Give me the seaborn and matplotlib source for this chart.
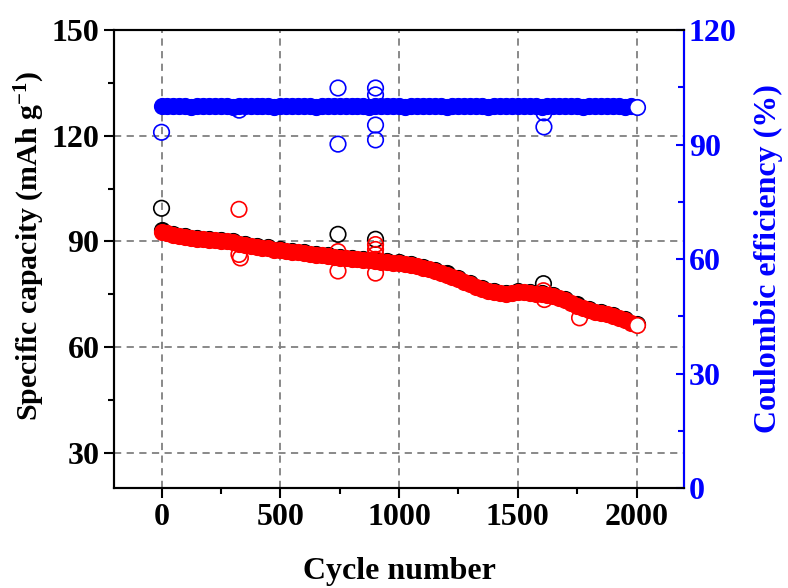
import seaborn as sns
import matplotlib.pyplot as plt
from matplotlib.ticker import MultipleLocator

# === 1. Data ===
# red: discharge capacity (mAh/g), sampled every 25 cycles along the band
cycles = list(range(0, 2001, 25))
discharge_cap = [
    92.8, 92.3, 91.9, 91.6, 91.3, 91.0, 90.8, 90.6, 90.5, 90.3,
    90.2, 90.0, 89.8, 89.4, 89.0, 88.7, 88.4, 88.2, 88.0, 87.7,
    87.5, 87.3, 87.1, 86.9, 86.7, 86.4, 86.2, 86.0, 85.8, 85.6,
    85.4, 85.2, 85.0, 84.9, 84.8, 84.6, 84.4, 84.2, 84.1, 84.0,
    83.8, 83.6, 83.3, 82.9, 82.5, 82.1, 81.6, 81.1, 80.6, 80.0,
    79.4, 78.6, 77.8, 77.1, 76.4, 76.0, 75.6, 75.3, 75.1, 75.3,
    75.6, 75.6, 75.4, 75.2, 75.0, 74.8, 74.5, 74.0, 73.3, 72.6,
    71.8, 71.1, 70.5, 70.1, 69.7, 69.3, 68.8, 68.2, 67.6, 66.9,
    66.2,
]
# blue: coulombic efficiency (%), same cycles
efficiency = [
    100.2, 100.1, 100.0, 100.1, 100.0, 99.9, 100.0, 100.1, 100.0, 100.0,
    100.1, 100.0, 99.9, 100.0, 100.1, 100.0, 100.0, 100.1, 100.0, 99.9,
    100.0, 100.1, 100.0, 100.0, 100.1, 100.0, 99.9, 100.0, 100.1, 100.0,
    100.2, 100.0, 100.0, 100.1, 100.0, 99.9, 100.1, 100.0, 100.0, 100.1,
    100.0, 99.9, 100.0, 100.1, 100.0, 100.0, 100.1, 100.0, 99.9, 100.0,
    100.1, 100.0, 100.0, 100.1, 100.0, 99.9, 100.0, 100.1, 100.0, 100.0,
    100.1, 100.0, 100.2, 100.0, 99.9, 100.0, 100.1, 100.0, 100.0, 100.1,
    100.0, 99.9, 100.0, 100.1, 100.0, 100.0, 100.1, 100.0, 99.9, 100.0,
    99.8,
]
# black: charge capacity, mostly hidden under the red band
cycles_50 = list(range(0, 2001, 50))
charge_cap = [
    93.2, 92.2, 91.6, 91.1, 90.8, 90.5, 90.2, 89.4, 88.8, 88.3,
    87.8, 87.4, 87.0, 86.5, 86.1, 85.7, 85.3, 85.1, 84.7, 84.4,
    84.1, 83.6, 82.8, 81.9, 80.9, 79.7, 78.1, 76.7, 75.9, 75.4,
    75.9, 75.7, 75.3, 74.8, 73.6, 72.1, 70.8, 70.0, 69.1, 67.9,
    66.5,
]

# outliers
black_out_cycles = [0, 743, 901, 1608]
black_out_cap = [99.4, 92.0, 90.6, 78.0]
red_out_cycles = [326, 326, 332, 743, 743, 901, 901, 901, 901, 901, 1608, 1612, 1760]
red_out_cap = [99.1, 86.3, 85.3, 87.1, 81.6, 89.1, 87.7, 86.3, 84.9, 81.0, 76.0, 73.5, 68.3]
blue_out_cycles = [0, 327, 743, 743, 901, 901, 901, 901, 1610, 1610]
blue_out_ce = [93.2, 99.0, 104.8, 90.1, 104.8, 103.0, 95.1, 91.2, 98.3, 94.6]

# === 2. Style ===
sns.set_style("white")
plt.rcParams["font.family"] = ["Liberation Serif", "DejaVu Serif"]
plt.rcParams["font.weight"] = "bold"
plt.rcParams["text.color"] = "black"
plt.rcParams["axes.labelcolor"] = "black"
plt.rcParams["xtick.color"] = "black"
plt.rcParams["ytick.color"] = "black"
plt.rcParams["mathtext.fontset"] = "custom"
plt.rcParams["mathtext.rm"] = "Liberation Serif:bold"
plt.rcParams["mathtext.it"] = "Liberation Serif:bold"
plt.rcParams["mathtext.bf"] = "Liberation Serif:bold"

fig = plt.figure(figsize=(7.88, 5.88), dpi=100)
ax = fig.add_axes([0.1447, 0.170, 0.7234, 0.779])
ax2 = ax.twinx()

S = 125
LW = 1.2

# === 3. Capacity (left axis) ===
sns.scatterplot(x=cycles_50, y=charge_cap, ax=ax, s=S, color="black",
                edgecolor="black", linewidth=LW, zorder=3)
sns.scatterplot(x=black_out_cycles, y=black_out_cap, ax=ax, s=S, color="black",
                facecolor="none", edgecolor="black", linewidth=LW, zorder=3)
sns.scatterplot(x=cycles[:-1], y=discharge_cap[:-1], ax=ax, s=S, color="red",
                edgecolor="red", linewidth=LW, zorder=4)
sns.scatterplot(x=red_out_cycles, y=red_out_cap, ax=ax, s=S, color="red",
                facecolor="none", edgecolor="red", linewidth=LW, zorder=4)
sns.scatterplot(x=cycles[-1:], y=discharge_cap[-1:], ax=ax, s=S, color="red",
                facecolor="white", edgecolor="red", linewidth=LW, zorder=5)

# === 4. Coulombic efficiency (right axis) ===
sns.scatterplot(x=cycles[:-1], y=efficiency[:-1], ax=ax2, s=S, color="blue",
                edgecolor="blue", linewidth=LW, zorder=4)
sns.scatterplot(x=blue_out_cycles, y=blue_out_ce, ax=ax2, s=S, color="blue",
                facecolor="none", edgecolor="blue", linewidth=LW, zorder=4)
sns.scatterplot(x=cycles[-1:], y=efficiency[-1:], ax=ax2, s=S, color="blue",
                facecolor="white", edgecolor="blue", linewidth=LW, zorder=5)

# === 5. Axes ===
ax.set_xlim(-200, 2200)
ax.set_ylim(20, 150)
ax2.set_ylim(0, 120)

ax.xaxis.set_major_locator(MultipleLocator(500))
ax.xaxis.set_minor_locator(MultipleLocator(250))
ax.yaxis.set_major_locator(MultipleLocator(30))
ax.yaxis.set_minor_locator(MultipleLocator(15))
ax2.yaxis.set_major_locator(MultipleLocator(30))
ax2.yaxis.set_minor_locator(MultipleLocator(15))

ax.set_axisbelow(True)
ax.grid(True, which="major", color="#808080", linestyle=(0, (4, 3)), linewidth=1.3)

ax.tick_params(axis="both", which="major", direction="out", length=7, width=1.5,
               labelsize=23, left=True, bottom=True, right=False, top=False)
ax.tick_params(axis="both", which="minor", direction="out", length=4, width=1.5,
               left=True, bottom=True, right=False, top=False)
ax2.tick_params(axis="y", which="major", direction="in", length=6, width=1.5,
                labelsize=23, colors="blue")
ax2.tick_params(axis="y", which="minor", direction="in", length=4, width=1.5,
                colors="blue")

for a in (ax, ax2):
    for sp in a.spines.values():
        sp.set_linewidth(1.5)
        sp.set_color("black")
ax2.spines["right"].set_color("blue")

ax.set_xlabel("Cycle number", fontsize=23, fontweight="bold", labelpad=18)
ax.set_ylabel(r"Specific capacity (mAh g$^{-1}$)", fontsize=21.5, fontweight="bold")
ax.yaxis.set_label_coords(-0.118, 0.528)
ax2.set_ylabel("Coulombic efficiency (%)", fontsize=23, fontweight="bold",
               color="blue", labelpad=12)

plt.savefig("out.png", dpi=100, facecolor="white")
